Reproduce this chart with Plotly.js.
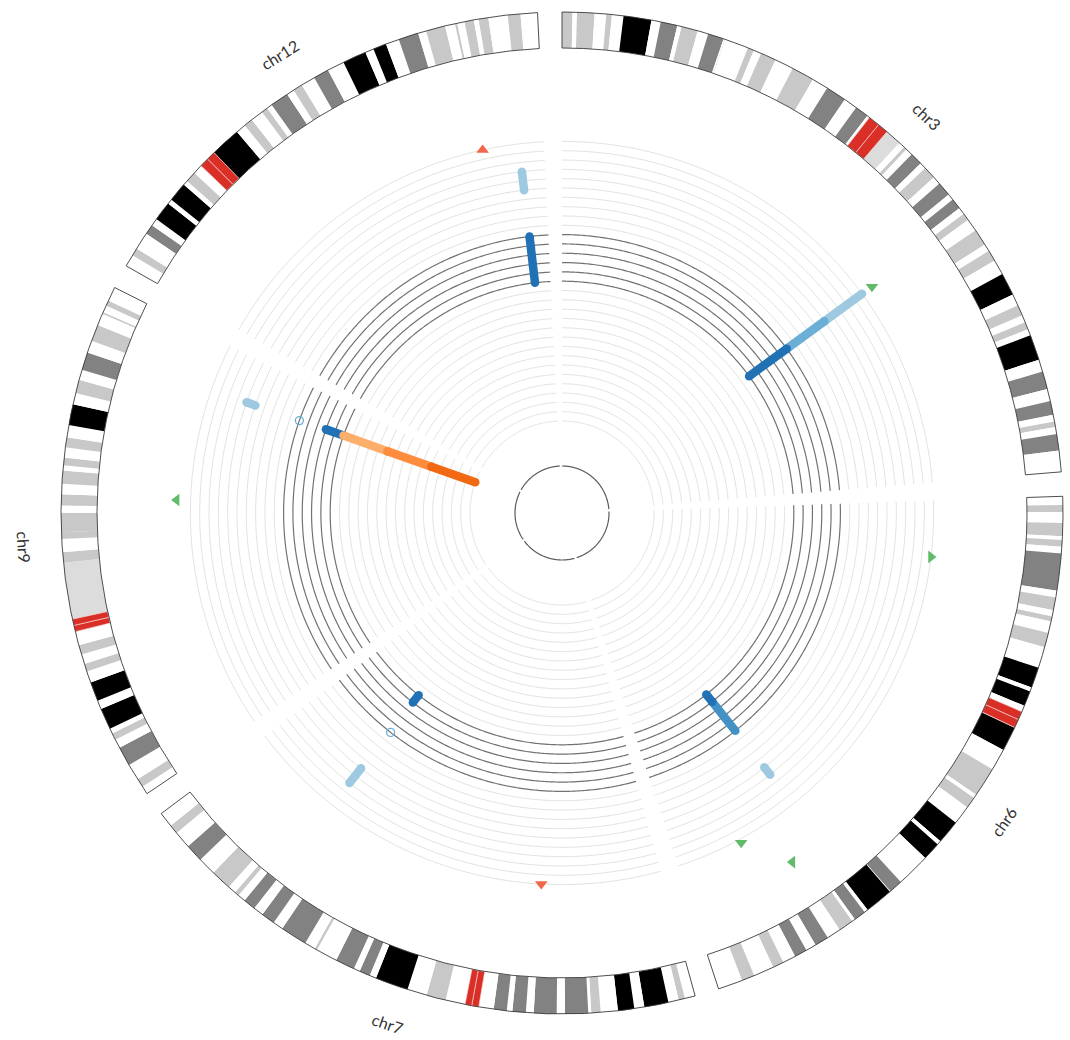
<!DOCTYPE html>
<html>
<head>
<meta charset="utf-8">
<script src="https://cdn.plot.ly/plotly-3.0.1.min.js"></script>
<style>
  html, body { margin: 0; padding: 0; background: #ffffff; }
  #chart { width: 1070px; height: 1040px; }
</style>
</head>
<body>
<div id="chart"></div>
<script>
// ---------- karyotype ----------
const chromNames   = ['chr3', 'chr6', 'chr7', 'chr9', 'chr12'];
const chromLengths = [198.02243, 171.115067, 159.138663, 141.213431, 133.851895]; // Mb

// cytobands: [start Mb, end Mb, stain]
const bandsChr3 = [
  [0,2.8,'gpos50'],[2.8,4.0,'gneg'],[4.0,8.7,'gpos50'],[8.7,11.8,'gneg'],[11.8,13.3,'gpos25'],
  [13.3,16.4,'gneg'],[16.4,23.9,'gpos100'],[23.9,26.4,'gneg'],[26.4,30.9,'gpos75'],[30.9,32.1,'gneg'],
  [32.1,36.5,'gpos50'],[36.5,39.4,'gneg'],[39.4,43.7,'gpos75'],[43.7,44.1,'gneg'],[44.1,44.2,'gpos50'],
  [44.2,50.6,'gneg'],[50.6,52.3,'gpos25'],[52.3,54.4,'gneg'],[54.4,58.6,'gpos50'],[58.6,63.7,'gneg'],
  [63.7,69.8,'gpos50'],[69.8,74.2,'gneg'],[74.2,79.8,'gpos75'],[79.8,83.5,'gneg'],[83.5,87.2,'gpos75'],
  [87.2,87.9,'gneg'],[87.9,91.0,'acen'],[91.0,93.9,'acen'],[93.9,98.3,'gvar'],[98.3,100.0,'gneg'],
  [100.0,100.9,'gpos25'],[100.9,102.8,'gneg'],[102.8,106.2,'gpos75'],[106.2,107.9,'gneg'],[107.9,111.3,'gpos50'],
  [111.3,113.5,'gneg'],[113.5,117.3,'gpos75'],[117.3,119.0,'gneg'],[119.0,121.9,'gpos75'],[121.9,123.8,'gneg'],
  [123.8,125.8,'gpos25'],[125.8,129.2,'gneg'],[129.2,133.7,'gpos25'],[133.7,135.7,'gneg'],[135.7,138.7,'gpos25'],
  [138.7,142.8,'gneg'],[142.8,148.9,'gpos100'],[148.9,152.1,'gneg'],[152.1,155.0,'gpos50'],[155.0,157.0,'gneg'],
  [157.0,159.0,'gpos50'],[159.0,160.7,'gneg'],[160.7,167.6,'gpos100'],[167.6,170.9,'gneg'],[170.9,175.7,'gpos75'],
  [175.7,179.0,'gneg'],[179.0,182.7,'gpos75'],[182.7,184.5,'gneg'],[184.5,186.0,'gpos25'],[186.0,187.9,'gneg'],
  [187.9,192.3,'gpos75'],[192.3,198.02243,'gneg']
];
const bandsChr6 = [
  [0,2.3,'gneg'],[2.3,4.2,'gpos25'],[4.2,7.1,'gneg'],[7.1,10.6,'gpos50'],[10.6,11.6,'gneg'],
  [11.6,13.4,'gpos25'],[13.4,15.2,'gneg'],[15.2,25.2,'gpos75'],[25.2,27.0,'gneg'],[27.0,30.4,'gpos50'],
  [30.4,32.1,'gneg'],[32.1,33.5,'gpos25'],[33.5,36.6,'gneg'],[36.6,40.5,'gpos25'],[40.5,46.2,'gneg'],
  [46.2,51.8,'gpos100'],[51.8,52.9,'gneg'],[52.9,57.0,'gpos100'],[57.0,58.7,'gneg'],[58.7,61.0,'acen'],
  [61.0,63.3,'acen'],[63.3,63.4,'gneg'],[63.4,70.0,'gpos100'],[70.0,75.9,'gneg'],[75.9,83.9,'gpos50'],
  [83.9,84.9,'gneg'],[84.9,88.0,'gpos50'],[88.0,93.1,'gneg'],[93.1,99.5,'gpos100'],[99.5,100.6,'gneg'],
  [100.6,105.5,'gpos100'],[105.5,114.6,'gneg'],[114.6,118.3,'gpos75'],[118.3,118.5,'gneg'],[118.5,126.1,'gpos100'],
  [126.1,127.1,'gneg'],[127.1,130.3,'gpos75'],[130.3,131.2,'gneg'],[131.2,135.2,'gpos50'],[135.2,139.0,'gneg'],
  [139.0,142.8,'gpos75'],[142.8,145.6,'gneg'],[145.6,149.0,'gpos75'],[149.0,152.5,'gneg'],[152.5,155.5,'gpos50'],
  [155.5,161.0,'gneg'],[161.0,164.5,'gpos50'],[164.5,171.115067,'gneg']
];
const bandsChr7 = [
  [0,2.8,'gneg'],[2.8,4.5,'gpos25'],[4.5,7.3,'gneg'],[7.3,13.8,'gpos100'],[13.8,16.5,'gneg'],
  [16.5,20.9,'gpos100'],[20.9,25.5,'gneg'],[25.5,28.0,'gpos50'],[28.0,28.8,'gneg'],[28.8,35.0,'gpos75'],
  [35.0,37.2,'gneg'],[37.2,43.3,'gpos75'],[43.3,45.4,'gneg'],[45.4,49.0,'gpos75'],[49.0,50.5,'gneg'],
  [50.5,54.0,'gpos75'],[54.0,58.0,'gneg'],[58.0,59.9,'acen'],[59.9,61.7,'acen'],[61.7,67.0,'gneg'],
  [67.0,72.2,'gpos50'],[72.2,77.5,'gneg'],[77.5,86.4,'gpos100'],[86.4,88.2,'gneg'],[88.2,91.1,'gpos75'],
  [91.1,92.8,'gneg'],[92.8,98.0,'gpos75'],[98.0,103.8,'gneg'],[103.8,104.5,'gpos50'],[104.5,107.4,'gneg'],
  [107.4,114.6,'gpos75'],[114.6,117.4,'gneg'],[117.4,121.1,'gpos75'],[121.1,123.8,'gneg'],[123.8,127.1,'gpos75'],
  [127.1,129.2,'gneg'],[129.2,130.4,'gpos25'],[130.4,132.6,'gneg'],[132.6,138.2,'gpos50'],[138.2,143.1,'gneg'],
  [143.1,147.9,'gpos75'],[147.9,152.6,'gneg'],[152.6,155.1,'gpos25'],[155.1,159.138663,'gneg']
];
const bandsChr9 = [
  [0,2.2,'gneg'],[2.2,4.6,'gpos25'],[4.6,9.0,'gneg'],[9.0,14.2,'gpos75'],[14.2,16.6,'gneg'],
  [16.6,18.5,'gpos25'],[18.5,19.9,'gneg'],[19.9,25.6,'gpos100'],[25.6,28.0,'gneg'],[28.0,33.2,'gpos100'],
  [33.2,36.3,'gneg'],[36.3,38.4,'gpos25'],[38.4,41.0,'gneg'],[41.0,43.6,'gpos25'],[43.6,47.3,'gneg'],
  [47.3,49.0,'acen'],[49.0,50.7,'acen'],[50.7,65.9,'gvar'],[65.9,68.7,'gpos25'],[68.7,72.2,'gneg'],
  [72.2,74.0,'gpos25'],[74.0,79.2,'gpos50'],[79.2,81.1,'gneg'],[81.1,84.1,'gpos50'],[84.1,86.9,'gneg'],
  [86.9,90.4,'gpos50'],[90.4,91.8,'gneg'],[91.8,93.9,'gpos25'],[93.9,96.6,'gneg'],[96.6,99.3,'gpos25'],
  [99.3,102.6,'gneg'],[102.6,108.2,'gpos100'],[108.2,111.3,'gneg'],[111.3,114.9,'gpos25'],[114.9,117.7,'gneg'],
  [117.7,122.5,'gpos75'],[122.5,125.8,'gneg'],[125.8,130.3,'gpos25'],[130.3,133.5,'gneg'],[133.5,134.0,'gpos25'],
  [134.0,135.9,'gneg'],[135.9,137.4,'gpos25'],[137.4,141.213431,'gneg']
];
const bandsChr12 = [
  [0,3.3,'gneg'],[3.3,5.4,'gpos25'],[5.4,10.1,'gneg'],[10.1,12.8,'gpos75'],[12.8,14.8,'gneg'],
  [14.8,20.0,'gpos100'],[20.0,21.3,'gneg'],[21.3,26.5,'gpos100'],[26.5,27.8,'gneg'],[27.8,30.7,'gpos50'],
  [30.7,33.3,'gneg'],[33.3,35.8,'acen'],[35.8,38.2,'acen'],[38.2,46.4,'gpos100'],[46.4,49.1,'gneg'],
  [49.1,51.5,'gpos25'],[51.5,54.9,'gneg'],[54.9,56.6,'gpos25'],[56.6,58.1,'gneg'],[58.1,63.1,'gpos75'],
  [63.1,65.1,'gneg'],[65.1,67.7,'gpos50'],[67.7,71.5,'gneg'],[71.5,75.7,'gpos75'],[75.7,80.3,'gneg'],
  [80.3,86.7,'gpos100'],[86.7,89.0,'gneg'],[89.0,92.6,'gpos100'],[92.6,96.2,'gneg'],[96.2,101.6,'gpos75'],
  [101.6,103.8,'gneg'],[103.8,109.0,'gpos50'],[109.0,111.7,'gneg'],[111.7,112.3,'gpos25'],[112.3,114.3,'gneg'],
  [114.3,116.8,'gpos50'],[116.8,118.1,'gneg'],[118.1,120.7,'gpos50'],[120.7,125.9,'gneg'],[125.9,129.3,'gpos50'],
  [129.3,133.851895,'gneg']
];
const chromBands = { chr3: bandsChr3, chr6: bandsChr6, chr7: bandsChr7, chr9: bandsChr9, chr12: bandsChr12 };

const stainColors = {
  gneg: '#ffffff', gpos25: '#c8c8c8', gpos50: '#c8c8c8', gpos75: '#828282',
  gpos100: '#000000', gvar: '#dcdcdc', acen: '#d92f27'
};

// ---------- sample tracks ----------
const ringCount = 31;                          // one ring per sample
const highlightRings = [15, 16, 17, 18, 19, 20];

// radial segments spanning samples at a locus
const segChrom = ['chr12', 'chr12', 'chr3', 'chr3', 'chr3', 'chr6', 'chr6', 'chr6', 'chr7', 'chr7', 'chr9', 'chr9', 'chr9', 'chr9', 'chr9'];
const segPos   = [124.8, 124.8, 125.0, 125.0, 125.0, 124.0, 124.0, 124.0, 124.5, 124.5, 124.0, 124.4, 124.4, 124.4, 124.4];
const segFrom  = [25, 15, 25, 20, 15, 25, 16, 15, 25, 15, 25, 15, 10, 5, 0];
const segTo    = [27, 20, 30, 25, 20, 26, 20, 16, 27, 16, 26, 17, 15, 10, 5];
const segColor = ['#9ecae1', '#2171b5', '#9ecae1', '#6baed6', '#2171b5', '#9ecae1', '#4292c6', '#2171b5',
                  '#9ecae1', '#2171b5', '#9ecae1', '#2171b5', '#fdae6b', '#fd8d3c', '#f16913'];

// single-sample hits
const hitChrom = ['chr9', 'chr7'];
const hitPos   = [124.1, 124.0];
const hitRing  = [20, 20];

// outer flags
const flagChrom  = ['chr12', 'chr7', 'chr3', 'chr9', 'chr6', 'chr6', 'chr6'];
const flagPos    = [111.7, 43.2, 125.1, 83.6, 20.2, 147.2, 135.8];
const flagRing   = [30, 30, 31.3, 31.5, 30, 30.4, 35];
const flagSymbol = ['triangle-up', 'triangle-down', 'triangle-down', 'triangle-left', 'triangle-right', 'triangle-down', 'triangle-left'];
const flagColor  = ['#f26649', '#f26649', '#62bb6a', '#62bb6a', '#62bb6a', '#62bb6a', '#62bb6a'];

// ---------- geometry ----------
const GAP_DEG = 2.8;
const IDEO_INNER = 465, IDEO_WIDTH = 36;
const TRACK_INNER = 92, TRACK_STEP = 9.32;
const CORE_R = 47;
const R_MAX = 508;
const W = 1070, H = 1040, CX = 562, CY = 513;

const totalLen = chromLengths.reduce((a, b) => a + b, 0);
const degPerMb = (360 - GAP_DEG * chromNames.length) / totalLen;
const chromStart = {}, chromSpan = {};
let acc = 0;
chromNames.forEach((c, i) => {
  chromStart[c] = acc;
  chromSpan[c] = chromLengths[i] * degPerMb;
  acc += chromSpan[c] + GAP_DEG;
});
const toTheta = (c, pos) => chromStart[c] + pos * degPerMb;
const ringR = k => TRACK_INNER + k * TRACK_STEP;

function arcPoints(c, r, rs, ts) {
  const t0 = chromStart[c], t1 = t0 + chromSpan[c];
  const n = Math.ceil((t1 - t0) / 0.4);
  for (let i = 0; i <= n; i++) { rs.push(r); ts.push(t0 + (t1 - t0) * i / n); }
  rs.push(null); ts.push(null);
}

const traces = [];

// concentric sample rings
const lightR = [], lightT = [], darkR = [], darkT = [];
chromNames.forEach(c => {
  for (let k = 0; k < ringCount; k++) {
    if (highlightRings.includes(k)) arcPoints(c, ringR(k), darkR, darkT);
    else arcPoints(c, ringR(k), lightR, lightT);
  }
});
traces.push({ type: 'scatterpolar', mode: 'lines', r: lightR, theta: lightT, connectgaps: false,
  line: { color: '#e1e1e1', width: 1 }, hoverinfo: 'skip' });
traces.push({ type: 'scatterpolar', mode: 'lines', r: darkR, theta: darkT, connectgaps: false,
  line: { color: '#727272', width: 1.2 }, hoverinfo: 'skip' });

// inner core circle
const coreR = [], coreT = [];
chromNames.forEach(c => arcPoints(c, CORE_R, coreR, coreT));
traces.push({ type: 'scatterpolar', mode: 'lines', r: coreR, theta: coreT, connectgaps: false,
  line: { color: '#5a5a5a', width: 1.2 }, hoverinfo: 'skip' });

// ideogram bands
const bandT = [], bandW = [], bandC = [], acenT = [], acenW = [];
chromNames.forEach(c => {
  chromBands[c].forEach(([s, e, stain]) => {
    const t = toTheta(c, (s + e) / 2), w = (e - s) * degPerMb;
    if (stain === 'acen') { acenT.push(t); acenW.push(w); }
    else { bandT.push(t); bandW.push(w); bandC.push(stainColors[stain]); }
  });
});
traces.push({ type: 'barpolar', theta: bandT, width: bandW, r: bandT.map(() => IDEO_WIDTH),
  base: bandT.map(() => IDEO_INNER), marker: { color: bandC, line: { width: 0 } }, hoverinfo: 'skip' });
traces.push({ type: 'barpolar', theta: acenT, width: acenW, r: acenT.map(() => IDEO_WIDTH),
  base: acenT.map(() => IDEO_INNER), marker: { color: stainColors.acen, line: { color: '#f4d0cc', width: 0.7 } },
  hoverinfo: 'skip' });
// chromosome outlines
traces.push({ type: 'barpolar',
  theta: chromNames.map(c => chromStart[c] + chromSpan[c] / 2),
  width: chromNames.map(c => chromSpan[c]),
  r: chromNames.map(() => IDEO_WIDTH), base: chromNames.map(() => IDEO_INNER),
  marker: { color: 'rgba(0,0,0,0)', line: { color: '#3a3a3a', width: 0.9 } }, hoverinfo: 'skip' });

// radial segments (outer ones first so inner ones sit on top)
const order = segChrom.map((_, i) => i).sort((a, b) => segFrom[b] - segFrom[a]);
order.forEach(i => {
  const t = toTheta(segChrom[i], segPos[i]);
  traces.push({ type: 'scatterpolar', mode: 'lines+markers',
    r: [ringR(segFrom[i]), ringR(segTo[i])], theta: [t, t],
    line: { color: segColor[i], width: 8.5 },
    marker: { color: segColor[i], size: 8.5 }, hoverinfo: 'skip' });
});

// single hits
traces.push({ type: 'scatterpolar', mode: 'markers',
  r: hitRing.map(ringR), theta: hitChrom.map((c, i) => toTheta(c, hitPos[i])),
  marker: { symbol: 'circle-open', size: 8, color: '#6baed6', line: { width: 1.3, color: '#6baed6' } },
  hoverinfo: 'skip' });

// flags
traces.push({ type: 'scatterpolar', mode: 'markers',
  r: flagRing.map(ringR), theta: flagChrom.map((c, i) => toTheta(c, flagPos[i])),
  marker: { symbol: flagSymbol, size: 11, color: flagColor, line: { width: 0 } },
  hoverinfo: 'skip' });

// chromosome labels
const LABEL_R = 539;
const annotations = chromNames.map(c => {
  const t = chromStart[c] + chromSpan[c] / 2;
  const rad = t * Math.PI / 180;
  const ang = (t > 90 && t < 270) ? t - 180 : (t >= 270 ? t - 360 : t);
  return {
    text: c, showarrow: false, xref: 'paper', yref: 'paper',
    x: (CX + LABEL_R * Math.sin(rad)) / W, y: 1 - (CY - LABEL_R * Math.cos(rad)) / H,
    xanchor: 'center', yanchor: 'middle', textangle: ang,
    font: { family: 'Lato, "Open Sans", sans-serif', size: 16, color: '#333333' }
  };
});

const layout = {
  width: W, height: H, margin: { l: 0, r: 0, t: 0, b: 0 },
  paper_bgcolor: '#ffffff', showlegend: false, hovermode: false,
  polar: {
    domain: { x: [(CX - R_MAX) / W, (CX + R_MAX) / W], y: [1 - (CY + R_MAX) / H, 1 - (CY - R_MAX) / H] },
    bgcolor: 'rgba(0,0,0,0)',
    radialaxis: { range: [0, R_MAX], visible: false, showgrid: false, showline: false, showticklabels: false, ticks: '' },
    angularaxis: { rotation: 90, direction: 'clockwise', visible: false, showgrid: false, showline: false,
      showticklabels: false, ticks: '' }
  },
  annotations: annotations
};

Plotly.newPlot('chart', traces, layout, { displayModeBar: false, staticPlot: true });
</script>
</body>
</html>
